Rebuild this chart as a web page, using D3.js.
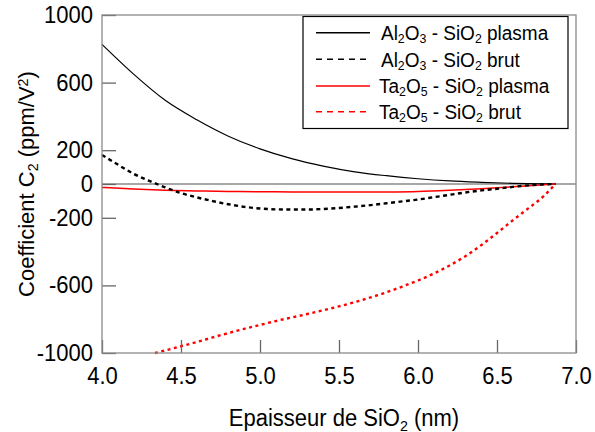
<!DOCTYPE html>
<html><head><meta charset="utf-8">
<script src="https://cdn.jsdelivr.net/npm/d3@7"></script>
<style>body{margin:0;background:#fff} text{font-family:"Liberation Sans",Arial,Helvetica,sans-serif;fill:#000}
text.tall{transform-box:fill-box;transform-origin:center;transform:scaleY(1.07)}</style>
</head><body><svg id="c" width="595" height="432"></svg>
<script>
// ---- data ----
const alPlasmaX = [4.0,4.2,4.4,4.6,4.8,5.0,5.2,5.4,5.6,5.8,6.0,6.2,6.4,6.6,6.8,6.87];
const alPlasmaY = [826,650,495,380,283,208,150,106,72,49,31,18,10,4,1,0];
const alBrutX = [4.0,4.1,4.2,4.3,4.4,4.5,4.6,4.7,4.8,4.9,5.0,5.1,5.2,5.3,5.4,5.5,5.6,5.7,5.8,5.9,6.0,6.1,6.2,6.3,6.4,6.5,6.6,6.7,6.8,6.87];
const alBrutY = [172,115,60,18,-20,-54,-79,-101,-120,-135,-145,-150,-151,-151,-148,-142,-134,-125,-114,-103,-92,-78,-64,-50,-38,-28,-17,-8,-2,0];
const taPlasmaX = [4.0,4.2,4.4,4.6,4.8,5.0,5.2,5.4,5.6,5.8,6.0,6.2,6.4,6.6,6.8,6.87];
const taPlasmaY = [-20,-30,-37,-41,-44,-46,-47,-48,-48,-47,-44,-37,-28,-16,-4,0];
const taBrutX = [4.335,4.4,4.5,4.6,4.7,4.8,4.9,5.0,5.1,5.2,5.3,5.4,5.5,5.6,5.7,5.8,5.9,6.0,6.1,6.2,6.3,6.4,6.5,6.6,6.7,6.8,6.87];
const taBrutY = [-1000,-985,-960,-935,-908,-882,-857,-834,-811,-790,-769,-747,-724,-699,-671,-641,-607,-571,-530,-482,-427,-362,-290,-215,-143,-68,0];
const xTicks = [4.0,4.5,5.0,5.5,6.0,6.5,7.0];
const yTicks = [1000,600,200,0,-200,-600,-1000];
const seriesNames = [["Al","2","O","3"," - SiO","2"," plasma"],["Al","2","O","3"," - SiO","2"," brut"],["Ta","2","O","5"," - SiO","2"," plasma"],["Ta","2","O","5"," - SiO","2"," brut"]];

// ---- layout ----
const svg = d3.select("#c");
const L=102, R=576, T=15, B=353;
const x = d3.scaleLinear().domain([4,7]).range([L,R]);
const y = d3.scaleLinear().domain([-1000,1000]).range([B,T]);
const grey="#8a8a8a";

// zero line
svg.append("line").attr("x1",L).attr("x2",R).attr("y1",y(0)).attr("y2",y(0)).attr("stroke",grey).attr("stroke-width",1.6);

const styles = [
  {c:"#000",w:1.2,d:null,ld:null},
  {c:"#000",w:2.4,d:"4,3.5",ld:"6,5"},
  {c:"#ff0000",w:1.5,d:null,ld:null},
  {c:"#ff0000",w:2.4,d:"3,3.5",ld:"6,5"}
];
const data = [[alPlasmaX,alPlasmaY],[alBrutX,alBrutY],[taPlasmaX,taPlasmaY],[taBrutX,taBrutY]];
const line = d3.line().x(d=>x(d[0])).y(d=>y(d[1])).curve(d3.curveMonotoneX);
const order=[0,2,1,3];
order.forEach(i=>{
  const pts = data[i][0].map((v,k)=>[v,data[i][1][k]]);
  svg.append("path").attr("d",line(pts)).attr("fill","none").attr("stroke",styles[i].c)
    .attr("stroke-width",styles[i].w).attr("stroke-dasharray",styles[i].d);
});

// axes
const ax = svg.append("g").attr("transform",`translate(0,${B})`)
  .call(d3.axisBottom(x).tickValues(xTicks).tickFormat(d3.format(".1f")).tickSize(-13).tickPadding(15));
const ay = svg.append("g").attr("transform",`translate(${L},0)`)
  .call(d3.axisLeft(y).tickValues(yTicks).tickFormat(d=>String(d)).tickSize(-14).tickPadding(9));
[ax,ay].forEach(g=>{
  g.select(".domain").remove();
  g.selectAll(".tick line").attr("stroke","#666").attr("stroke-width",1.3);
  g.selectAll(".tick text").attr("class","tall").attr("font-size",22).attr("font-family","Liberation Sans, Arial, sans-serif").attr("fill","#000");
});
// frame
svg.append("rect").attr("x",L).attr("y",T).attr("width",R-L).attr("height",B-T)
  .attr("fill","none").attr("stroke",grey).attr("stroke-width",1.3);

// axis titles
function rich(t, parts){
  parts.forEach(p=>{
    const ts=t.append("tspan").text(p[0]);
    if(p[1]==="sub") ts.attr("font-size","0.65em").attr("baseline-shift","-25%");
    if(p[1]==="sup") ts.attr("font-size","0.65em").attr("baseline-shift","45%");
  });
}
const xt = svg.append("text").attr("class","tall").attr("x",344).attr("y",426).attr("text-anchor","middle").attr("font-size",22);
rich(xt,[["Epaisseur de SiO"],["2","sub"],[" (nm)"]]);
const yt = svg.append("text").attr("transform",`translate(34,184) rotate(-90)`).attr("text-anchor","middle").attr("font-size",22);
rich(yt,[["Coefficient C"],["2","sub"],[" (ppm/V"],["2","sup"],[")"]]);

// legend
const lg = svg.append("g");
lg.append("rect").attr("x",303).attr("y",16.5).attr("width",265).attr("height",112).attr("fill","#fff").attr("stroke","#000").attr("stroke-width",1.2);
const ly=[32.7,59.3,86,111.7];
seriesNames.forEach((nm,i)=>{
  lg.append("line").attr("x1",316).attr("x2",370).attr("y1",ly[i]).attr("y2",ly[i])
    .attr("stroke",styles[i].c).attr("stroke-width",1.6).attr("stroke-dasharray",styles[i].ld);
  const t = lg.append("text").attr("class","tall").attr("x",i<2?381:379).attr("y",ly[i]+7).attr("font-size",19);
  rich(t, nm.map((p,k)=> (k===1||k===3||k===5)?[p,"sub"]:[p]));
});
</script></body></html>
